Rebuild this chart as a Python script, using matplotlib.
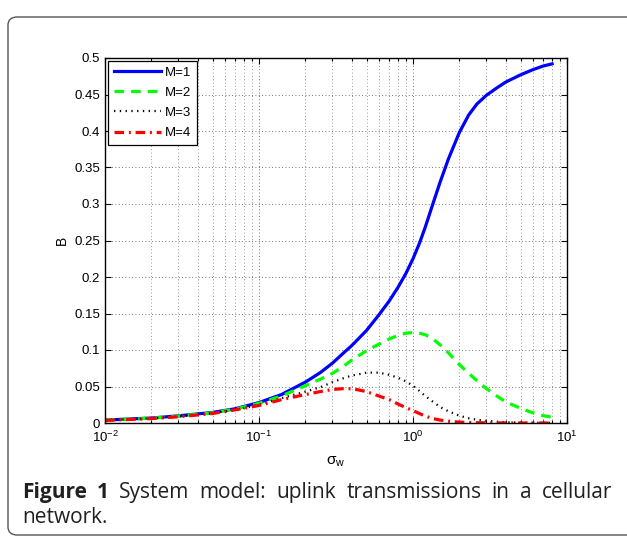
import numpy as np
import matplotlib
matplotlib.use("Agg")
import matplotlib.pyplot as plt
from matplotlib.patches import FancyBboxPatch
from matplotlib.ticker import LogLocator, FixedLocator

plt.rcParams["font.family"] = ["Liberation Sans", "DejaVu Sans"]
plt.rcParams["mathtext.fontset"] = "custom"
plt.rcParams["mathtext.rm"] = "Liberation Sans"
plt.rcParams["mathtext.it"] = "Liberation Sans"

# values
sigma_w = [0.01, 0.02, 0.03, 0.05, 0.07, 0.1, 0.14, 0.2, 0.25, 0.3, 0.35, 0.4,
           0.45, 0.5, 0.6, 0.7, 0.8, 0.9, 1.0, 1.1, 1.2, 1.35, 1.5, 1.7, 2.0,
           2.3, 2.6, 3.0, 3.5, 4.0, 5.0, 6.0, 7.0, 8.0]
b_m1 = [0.004, 0.0068, 0.0098, 0.0145, 0.0195, 0.028, 0.039, 0.056, 0.069,
        0.082, 0.095, 0.106, 0.117, 0.127, 0.148, 0.167, 0.186, 0.205, 0.225,
        0.246, 0.268, 0.301, 0.330, 0.362, 0.398, 0.422, 0.437, 0.449, 0.459,
        0.467, 0.477, 0.484, 0.489, 0.492]
b_m2 = [0.004, 0.0066, 0.0095, 0.014, 0.019, 0.027, 0.037, 0.051, 0.060,
        0.068, 0.077, 0.086, 0.093, 0.099, 0.108, 0.115, 0.120, 0.123, 0.124,
        0.123, 0.121, 0.115, 0.107, 0.096, 0.080, 0.068, 0.058, 0.047, 0.037,
        0.029, 0.020, 0.014, 0.010, 0.008]
b_m3 = [0.004, 0.0065, 0.009, 0.0135, 0.018, 0.025, 0.034, 0.043, 0.049,
        0.056, 0.061, 0.065, 0.067, 0.069, 0.069, 0.066, 0.062, 0.057, 0.051,
        0.044, 0.037, 0.029, 0.022, 0.016, 0.010, 0.0065, 0.0045, 0.003,
        0.0018, 0.001, 0.0005, 0.0003, 0.0002, 0.0002]
b_m4 = [0.0035, 0.006, 0.0085, 0.013, 0.018, 0.024, 0.032, 0.039, 0.043,
        0.046, 0.047, 0.047, 0.045, 0.043, 0.037, 0.032, 0.026, 0.021, 0.017,
        0.013, 0.0095, 0.006, 0.004, 0.0025, 0.0012, 0.0007, 0.0004, 0.0002,
        0.0001, 0.0001, 0.0, 0.0, 0.0, 0.0]

fig = plt.figure(figsize=(6.27, 5.41), dpi=100)

# rounded frame around figure + caption
frame = FancyBboxPatch((8 / 627, 6 / 541), 660 / 627, 518 / 541,
                       boxstyle="round,pad=0,rounding_size=0.015",
                       transform=fig.transFigure, fill=False,
                       edgecolor="#555555", linewidth=1.0)
fig.patches.append(frame)

ax = fig.add_axes([105 / 627, 1 - 423 / 541, 462 / 627, 365 / 541])

ax.plot(sigma_w, b_m1, color="#0000ff", linestyle="-", linewidth=2.3, label="M=1")
ax.plot(sigma_w, b_m2, color="#00ff00", linestyle=(0, (3, 2.2)), linewidth=2.3, label="M=2")
ax.plot(sigma_w, b_m3, color="black", linestyle=(0, (0.6, 2.0)), linewidth=1.6, label="M=3")
ax.plot(sigma_w, b_m4, color="#ff0000", linestyle=(0, (3, 1.5, 0.6, 1.5)), linewidth=2.3, label="M=4")

ax.set_xscale("log")
ax.set_xlim(0.01, 10)
ax.set_ylim(0, 0.5)
ax.yaxis.set_major_locator(FixedLocator(np.arange(0, 0.51, 0.05)))
ax.set_yticklabels(["0", "0.05", "0.1", "0.15", "0.2", "0.25", "0.3", "0.35",
                    "0.4", "0.45", "0.5"])
ax.xaxis.set_major_locator(LogLocator(base=10, numticks=10))
ax.xaxis.set_minor_locator(LogLocator(base=10, subs=np.arange(2, 10), numticks=20))

ax.grid(True, which="major", linestyle=(0, (1, 3)), color="#444444", linewidth=0.6)
ax.grid(True, which="minor", axis="x", linestyle=(0, (1, 3)), color="#777777", linewidth=0.6)
ax.tick_params(which="both", direction="in", top=True, right=True, labelsize=9.5,
               width=0.8, colors="black")
ax.tick_params(which="major", length=4)
ax.tick_params(which="minor", length=2)
ax.tick_params(axis="x", pad=5)
for s in ax.spines.values():
    s.set_linewidth(1.0)

ax.set_xlabel(r"$\sigma_{\mathrm{w}}$", fontsize=11, labelpad=7)
ax.set_ylabel("B", fontsize=10, labelpad=4)

leg = ax.legend(loc="upper left", fontsize=9.5, frameon=True, fancybox=False,
                edgecolor="black", framealpha=1, borderaxespad=0.25,
                handlelength=3.6, labelspacing=0.6, borderpad=0.4,
                handletextpad=0.3)
leg.get_frame().set_linewidth(0.9)

# caption, first line justified between x=22 and x=612 px
cap_color = "#231f20"
cap_size = 15
words = [("Figure", "bold"), ("1", "bold"), ("System", "normal"), ("model:", "normal"),
         ("uplink", "normal"), ("transmissions", "normal"), ("in", "normal"),
         ("a", "normal"), ("cellular", "normal")]
y1 = 1 - 498 / 541
objs = [fig.text(0, y1, w, fontsize=cap_size, fontweight=fw, family="Open Sans",
                 color=cap_color, va="baseline") for w, fw in words]
fig.canvas.draw()
r = fig.canvas.get_renderer()
widths = [o.get_window_extent(r).width for o in objs]
gap = (612 - 22 - sum(widths)) / (len(words) - 1)
x = 22.0
for o, w in zip(objs, widths):
    o.set_x(x / 627)
    x += w + gap
fig.text(22 / 627, 1 - 523 / 541, "network.", fontsize=cap_size, family="Open Sans",
         color=cap_color, va="baseline")

fig.savefig("out.png", dpi=100)
